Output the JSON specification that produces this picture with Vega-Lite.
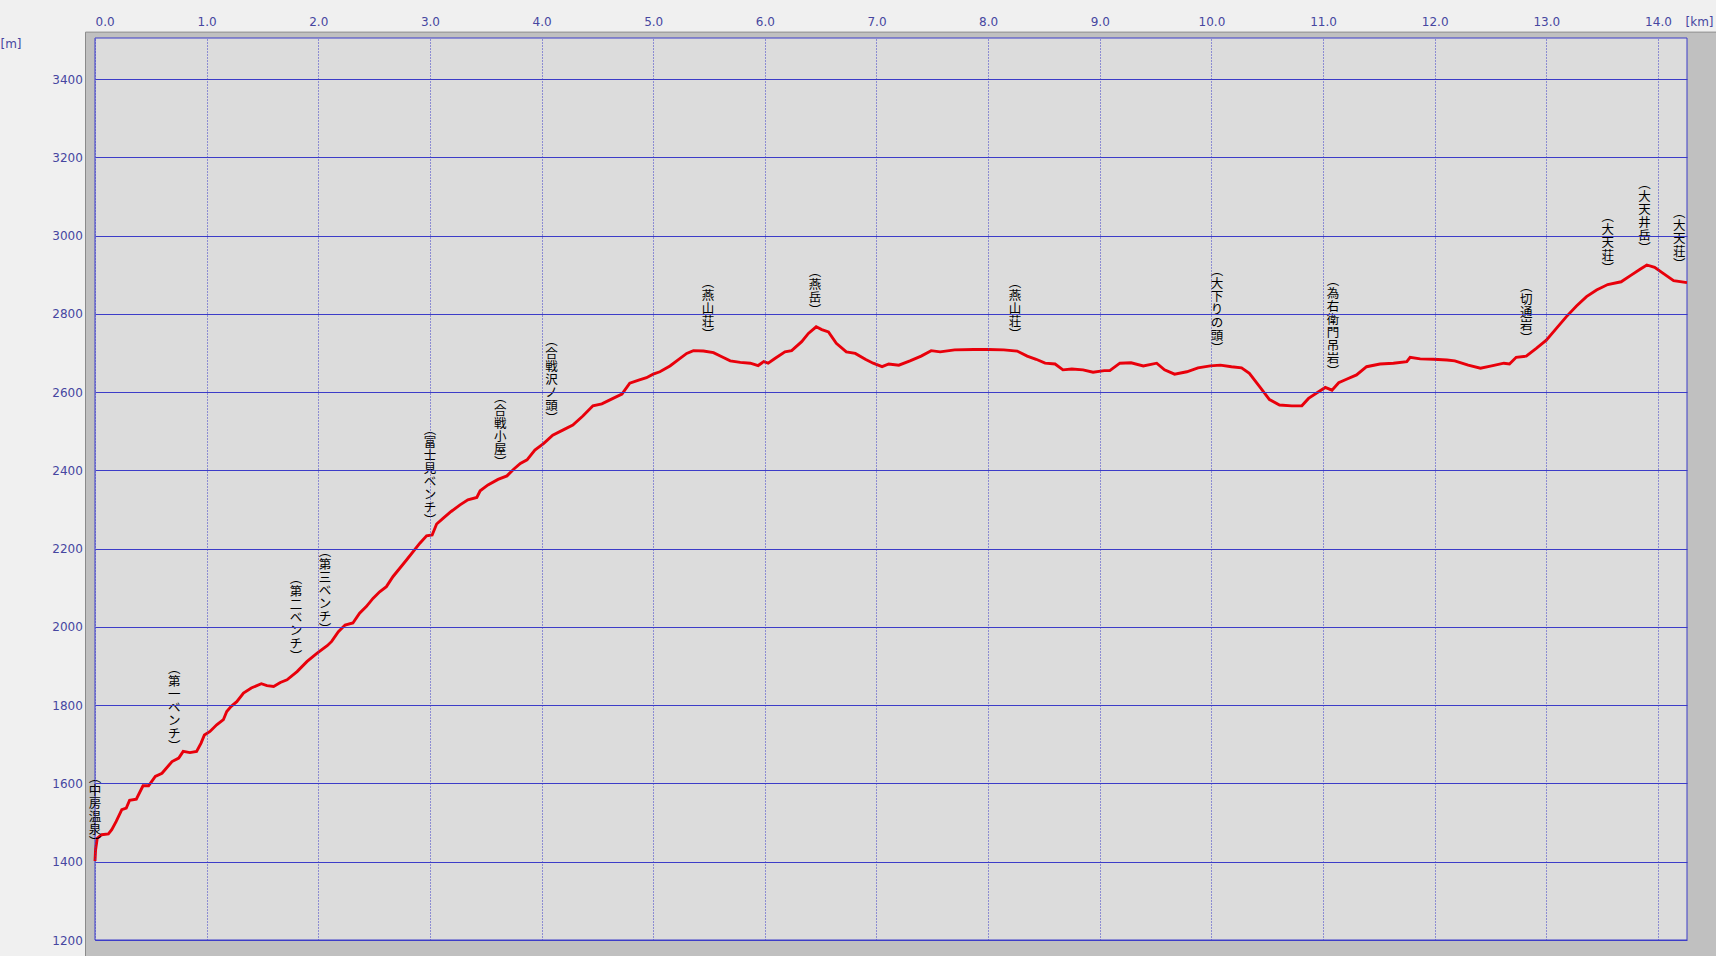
{
  "$schema": "https://vega.github.io/schema/vega-lite/v6.json",
  "width": 1592,
  "height": 902,
  "autosize": {"type": "none"},
  "padding": {"left": 95, "top": 38, "right": 29, "bottom": 16},
  "background": "#f0f0f0",
  "config": {"view": {"stroke": null, "fill": null}, "font": "DejaVu Sans"},
  "datasets": {
    "profile": [
      {"km": 0, "elev": 1402}, {"km": 0.005, "elev": 1430}, {"km": 0.02, "elev": 1460}, {"km": 0.06, "elev": 1469},
      {"km": 0.12, "elev": 1471}, {"km": 0.15, "elev": 1482}, {"km": 0.19, "elev": 1503}, {"km": 0.24, "elev": 1533},
      {"km": 0.28, "elev": 1537}, {"km": 0.31, "elev": 1557}, {"km": 0.37, "elev": 1560}, {"km": 0.43, "elev": 1594},
      {"km": 0.48, "elev": 1594}, {"km": 0.54, "elev": 1618}, {"km": 0.60, "elev": 1626}, {"km": 0.69, "elev": 1656},
      {"km": 0.75, "elev": 1665}, {"km": 0.79, "elev": 1682}, {"km": 0.85, "elev": 1679}, {"km": 0.91, "elev": 1682},
      {"km": 0.95, "elev": 1703}, {"km": 0.98, "elev": 1724}, {"km": 1.03, "elev": 1733}, {"km": 1.09, "elev": 1750},
      {"km": 1.15, "elev": 1763}, {"km": 1.18, "elev": 1784}, {"km": 1.22, "elev": 1797}, {"km": 1.27, "elev": 1809},
      {"km": 1.33, "elev": 1831}, {"km": 1.40, "elev": 1844}, {"km": 1.49, "elev": 1855}, {"km": 1.54, "elev": 1850},
      {"km": 1.60, "elev": 1848}, {"km": 1.66, "elev": 1858}, {"km": 1.72, "elev": 1865}, {"km": 1.81, "elev": 1886},
      {"km": 1.90, "elev": 1912}, {"km": 1.99, "elev": 1933}, {"km": 2.08, "elev": 1952}, {"km": 2.12, "elev": 1963},
      {"km": 2.18, "elev": 1988}, {"km": 2.24, "elev": 2005}, {"km": 2.31, "elev": 2010}, {"km": 2.37, "elev": 2035},
      {"km": 2.43, "elev": 2052}, {"km": 2.49, "elev": 2073}, {"km": 2.55, "elev": 2090}, {"km": 2.61, "elev": 2103},
      {"km": 2.67, "elev": 2129}, {"km": 2.73, "elev": 2150}, {"km": 2.79, "elev": 2171}, {"km": 2.91, "elev": 2214},
      {"km": 2.97, "elev": 2233}, {"km": 3.02, "elev": 2235}, {"km": 3.06, "elev": 2263}, {"km": 3.12, "elev": 2278},
      {"km": 3.19, "elev": 2295}, {"km": 3.27, "elev": 2312}, {"km": 3.34, "elev": 2325}, {"km": 3.42, "elev": 2331},
      {"km": 3.45, "elev": 2348}, {"km": 3.52, "elev": 2363}, {"km": 3.61, "elev": 2377}, {"km": 3.69, "elev": 2386},
      {"km": 3.75, "elev": 2403}, {"km": 3.81, "elev": 2418}, {"km": 3.87, "elev": 2427}, {"km": 3.94, "elev": 2452},
      {"km": 4.02, "elev": 2469}, {"km": 4.10, "elev": 2490}, {"km": 4.19, "elev": 2503}, {"km": 4.28, "elev": 2516},
      {"km": 4.37, "elev": 2539}, {"km": 4.46, "elev": 2565}, {"km": 4.54, "elev": 2570}, {"km": 4.64, "elev": 2584},
      {"km": 4.72, "elev": 2595}, {"km": 4.79, "elev": 2623}, {"km": 4.87, "elev": 2631}, {"km": 4.94, "elev": 2637},
      {"km": 5.00, "elev": 2646}, {"km": 5.06, "elev": 2652}, {"km": 5.15, "elev": 2667}, {"km": 5.22, "elev": 2682},
      {"km": 5.30, "elev": 2699}, {"km": 5.36, "elev": 2706}, {"km": 5.45, "elev": 2705}, {"km": 5.54, "elev": 2701},
      {"km": 5.61, "elev": 2691}, {"km": 5.69, "elev": 2680}, {"km": 5.78, "elev": 2676}, {"km": 5.87, "elev": 2674},
      {"km": 5.94, "elev": 2668}, {"km": 5.99, "elev": 2678}, {"km": 6.03, "elev": 2674}, {"km": 6.09, "elev": 2686},
      {"km": 6.18, "elev": 2703}, {"km": 6.24, "elev": 2706}, {"km": 6.33, "elev": 2729}, {"km": 6.39, "elev": 2750},
      {"km": 6.46, "elev": 2767}, {"km": 6.51, "elev": 2760}, {"km": 6.57, "elev": 2754}, {"km": 6.64, "elev": 2725},
      {"km": 6.73, "elev": 2703}, {"km": 6.81, "elev": 2699}, {"km": 6.90, "elev": 2684}, {"km": 6.97, "elev": 2674},
      {"km": 7.05, "elev": 2665}, {"km": 7.11, "elev": 2672}, {"km": 7.20, "elev": 2669}, {"km": 7.30, "elev": 2680},
      {"km": 7.40, "elev": 2692}, {"km": 7.49, "elev": 2706}, {"km": 7.57, "elev": 2703}, {"km": 7.70, "elev": 2708},
      {"km": 7.87, "elev": 2709}, {"km": 8.00, "elev": 2709}, {"km": 8.14, "elev": 2708}, {"km": 8.26, "elev": 2705},
      {"km": 8.35, "elev": 2692}, {"km": 8.43, "elev": 2684}, {"km": 8.51, "elev": 2674}, {"km": 8.60, "elev": 2672},
      {"km": 8.67, "elev": 2657}, {"km": 8.75, "elev": 2659}, {"km": 8.85, "elev": 2657}, {"km": 8.94, "elev": 2651},
      {"km": 9.04, "elev": 2655}, {"km": 9.09, "elev": 2655}, {"km": 9.18, "elev": 2674}, {"km": 9.28, "elev": 2675},
      {"km": 9.39, "elev": 2667}, {"km": 9.51, "elev": 2674}, {"km": 9.58, "elev": 2657}, {"km": 9.67, "elev": 2646},
      {"km": 9.78, "elev": 2652}, {"km": 9.88, "elev": 2662}, {"km": 9.99, "elev": 2667}, {"km": 10.08, "elev": 2669},
      {"km": 10.18, "elev": 2665}, {"km": 10.27, "elev": 2662}, {"km": 10.34, "elev": 2648}, {"km": 10.43, "elev": 2615},
      {"km": 10.52, "elev": 2581}, {"km": 10.61, "elev": 2567}, {"km": 10.72, "elev": 2565}, {"km": 10.81, "elev": 2565},
      {"km": 10.87, "elev": 2584}, {"km": 10.96, "elev": 2601}, {"km": 11.02, "elev": 2612}, {"km": 11.08, "elev": 2605},
      {"km": 11.14, "elev": 2624}, {"km": 11.21, "elev": 2633}, {"km": 11.30, "elev": 2644}, {"km": 11.39, "elev": 2665},
      {"km": 11.51, "elev": 2672}, {"km": 11.63, "elev": 2674}, {"km": 11.75, "elev": 2678}, {"km": 11.78, "elev": 2689},
      {"km": 11.87, "elev": 2685}, {"km": 11.99, "elev": 2684}, {"km": 12.11, "elev": 2682}, {"km": 12.18, "elev": 2680},
      {"km": 12.30, "elev": 2669}, {"km": 12.41, "elev": 2661}, {"km": 12.51, "elev": 2667}, {"km": 12.62, "elev": 2674},
      {"km": 12.67, "elev": 2672}, {"km": 12.73, "elev": 2689}, {"km": 12.82, "elev": 2692}, {"km": 12.91, "elev": 2712},
      {"km": 13.00, "elev": 2733}, {"km": 13.09, "elev": 2763}, {"km": 13.18, "elev": 2793}, {"km": 13.27, "elev": 2820},
      {"km": 13.36, "elev": 2844}, {"km": 13.45, "elev": 2861}, {"km": 13.55, "elev": 2875}, {"km": 13.67, "elev": 2882},
      {"km": 13.76, "elev": 2899}, {"km": 13.84, "elev": 2914}, {"km": 13.90, "elev": 2925}, {"km": 13.97, "elev": 2919},
      {"km": 14.05, "elev": 2903}, {"km": 14.14, "elev": 2885}, {"km": 14.26, "elev": 2880}
    ],
    "points": [
      {"km": 0.0, "elev": 1406, "name": "中房温泉"},
      {"km": 0.71, "elev": 1653, "name": "第一ベンチ"},
      {"km": 1.80, "elev": 1883, "name": "第二ベンチ"},
      {"km": 2.06, "elev": 1951, "name": "第三ベンチ"},
      {"km": 3.00, "elev": 2231, "name": "富士見ベンチ"},
      {"km": 3.63, "elev": 2379, "name": "合戦小屋"},
      {"km": 4.09, "elev": 2490, "name": "合戦沢ノ頭"},
      {"km": 5.49, "elev": 2704, "name": "燕山荘"},
      {"km": 6.45, "elev": 2766, "name": "燕岳"},
      {"km": 8.24, "elev": 2704, "name": "燕山荘"},
      {"km": 10.05, "elev": 2670, "name": "大下りの頭"},
      {"km": 11.09, "elev": 2611, "name": "為右衛門吊岩"},
      {"km": 12.82, "elev": 2694, "name": "切通岩"},
      {"km": 13.55, "elev": 2874, "name": "大天荘"},
      {"km": 13.88, "elev": 2925, "name": "大天井岳"},
      {"km": 14.19, "elev": 2883, "name": "大天荘"}
    ]
  },
  "layer": [
    {
      "data": {"values": [{}]},
      "mark": {"type": "rect", "fill": "#c0c0c0", "stroke": "#8a8a8a", "strokeWidth": 1, "clip": false},
      "encoding": {
        "x": {"datum": -0.085, "type": "quantitative"},
        "x2": {"datum": 14.7},
        "y": {"datum": 3520, "type": "quantitative"},
        "y2": {"datum": 1140}
      }
    },
    {
      "data": {"values": [{}]},
      "mark": {"type": "rect", "fill": "#dcdcdc", "stroke": "#3c3cc8", "strokeWidth": 1},
      "encoding": {
        "x": {"datum": 0, "type": "quantitative"},
        "x2": {"datum": 14.26},
        "y": {"datum": 1200, "type": "quantitative"},
        "y2": {"datum": 3505}
      }
    },
    {
      "data": {"name": "profile"},
      "mark": {"type": "line", "color": "#e8000b", "strokeWidth": 2.9},
      "encoding": {
        "x": {
          "field": "km", "type": "quantitative",
          "scale": {"domain": [0, 14.26], "nice": false, "zero": false},
          "axis": {
            "orient": "top", "values": [0, 1, 2, 3, 4, 5, 6, 7, 8, 9, 10, 11, 12, 13, 14],
            "format": ".1f", "labelFlush": true, "ticks": false, "domain": false,
            "grid": true, "gridColor": "#3c3cc8", "gridDash": [1, 2], "gridWidth": 1,
            "labelColor": "#4646a0", "labelFont": "DejaVu Sans", "labelFontSize": 12, "labelPadding": 9.5,
            "title": "[km]", "titleX": 1590, "titleY": -9.5, "titleAlign": "left", "titleBaseline": "bottom",
            "titleFont": "DejaVu Sans", "titleFontSize": 12, "titleFontWeight": "normal", "titleColor": "#4646a0",
            "zindex": 1
          }
        },
        "y": {
          "field": "elev", "type": "quantitative",
          "scale": {"domain": [1200, 3505], "nice": false, "zero": false},
          "axis": {
            "values": [1200, 1400, 1600, 1800, 2000, 2200, 2400, 2600, 2800, 3000, 3200, 3400],
            "format": "d", "ticks": false, "domain": false,
            "grid": true, "gridColor": "#3c3cc8", "gridWidth": 1,
            "labelColor": "#4646a0", "labelFont": "DejaVu Sans", "labelFontSize": 12, "labelPadding": 12.7,
            "title": "[m]", "titleAngle": 0, "titleX": -95, "titleY": 5.5, "titleAlign": "left", "titleBaseline": "middle",
            "titleFont": "DejaVu Sans", "titleFontSize": 12, "titleFontWeight": "normal", "titleColor": "#4646a0",
            "zindex": 1
          }
        }
      }
    },
    {
      "data": {"name": "points"},
      "transform": [
        {"calculate": "'︵\\n' + join(split(datum.name, ''), '\\n') + '\\n︶'", "as": "vname"},
        {"calculate": "datum.elev + (length(datum.name) + 1) * 13 * 2305 / 902", "as": "labelTop"}
      ],
      "mark": {"type": "text", "font": "Noto Sans CJK JP", "fontSize": 12.5, "lineHeight": 13, "lineBreak": "\n", "baseline": "top", "align": "center", "dy": -22, "color": "#000000"},
      "encoding": {
        "x": {"field": "km", "type": "quantitative"},
        "y": {"field": "labelTop", "type": "quantitative"},
        "text": {"field": "vname"}
      }
    }
  ]
}
